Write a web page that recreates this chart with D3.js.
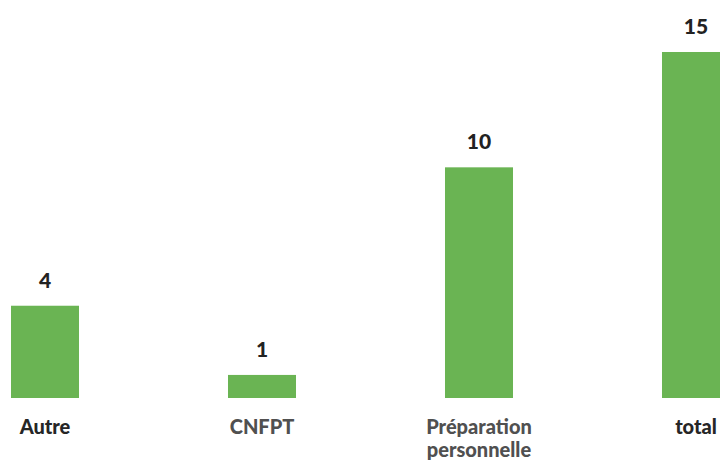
<!DOCTYPE html>
<html>
<head>
<meta charset="utf-8">
<script src="https://cdn.jsdelivr.net/npm/d3@7"></script>
<style>
  html, body { margin: 0; padding: 0; background: #fff; }
  svg { display: block; }
</style>
</head>
<body>
<svg id="chart" width="720" height="463"></svg>
<script>
const categories = ["Autre", "CNFPT", "Préparation personnelle", "total"];
const values = [4, 1, 10, 15];

const W = 720, H = 463;
const baseline = 398;
const svg = d3.select("#chart");

const x = d3.scaleBand()
  .domain(categories)
  .range([11, 730])
  .paddingInner(0.6866)
  .paddingOuter(0);

const y = d3.scaleLinear()
  .domain([0, 15])
  .range([baseline, 52]);

const barColor = "#6ab453";
const labelFont = "Lato, 'Open Sans', 'DejaVu Sans', sans-serif";
const catColor = d => (d === "CNFPT" || d === "Préparation personnelle") ? "#505050" : "#262626";

svg.selectAll("rect.bar")
  .data(categories)
  .join("rect")
  .attr("class", "bar")
  .attr("x", d => x(d))
  .attr("width", x.bandwidth())
  .attr("y", (d, i) => y(values[i]))
  .attr("height", (d, i) => y(0) - y(values[i]))
  .attr("fill", barColor);

svg.selectAll("text.val")
  .data(categories)
  .join("text")
  .attr("class", "val")
  .attr("x", d => x(d) + x.bandwidth() / 2)
  .attr("y", (d, i) => y(values[i]) - 18)
  .attr("text-anchor", "middle")
  .attr("font-family", labelFont)
  .attr("font-weight", 900)
  .attr("font-size", 21)
  .attr("fill", "#222")
  .text((d, i) => values[i]);

const cat = svg.selectAll("text.cat")
  .data(categories)
  .join("text")
  .attr("class", "cat")
  .attr("x", d => x(d) + x.bandwidth() / 2)
  .attr("y", 434)
  .attr("text-anchor", "middle")
  .attr("font-family", labelFont)
  .attr("font-weight", 900)
  .attr("font-size", 20)
  .attr("fill", d => catColor(d));

cat.each(function(d) {
  const words = d.split(" ");
  const t = d3.select(this);
  words.forEach((w, k) => {
    t.append("tspan")
      .attr("x", x(d) + x.bandwidth() / 2)
      .attr("dy", k === 0 ? 0 : 23)
      .text(w);
  });
});
</script>
</body>
</html>
